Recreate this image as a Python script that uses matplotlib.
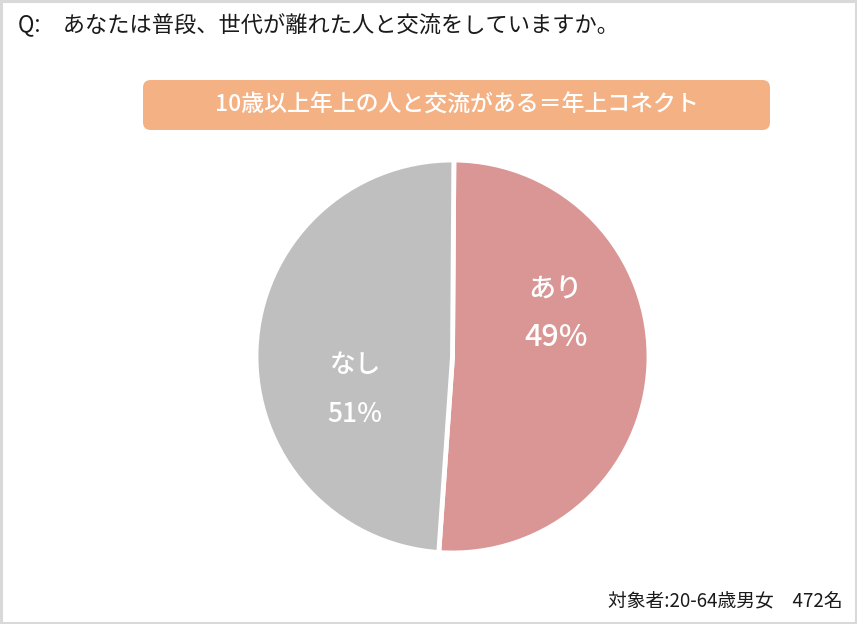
import matplotlib
matplotlib.use("Agg")
import matplotlib.pyplot as plt
from matplotlib.patches import FancyBboxPatch, Rectangle

plt.rcParams['font.family'] = ['Noto Sans CJK JP', 'DejaVu Sans']

labels = ["あり", "なし"]
label_pct = [49, 51]            # percentages printed on the chart
wedge_share = [51.0, 49.0]      # wedge sizes as drawn in the reference picture
colors = ["#D99694", "#BFBFBF"]
title = "Q:　あなたは普段、世代が離れた人と交流をしていますか。"
banner = "10歳以上年上の人と交流がある＝年上コネクト"
footer = "対象者:20-64歳男女　472名"

W, H = 857, 624
fig = plt.figure(figsize=(W / 100, H / 100), dpi=100)
fig.patch.set_facecolor("white")

# border
fig.patches.append(Rectangle((0.001, 0.002), 0.9975, 0.996, transform=fig.transFigure,
                             fill=False, edgecolor="#D9D9D9", linewidth=2.2))

fig.text(18 / W, 1 - 25 / H, title, fontsize=16, va="center", ha="left", color="#1a1a1a")

# banner
bx0, bx1, by0, by1 = 143, 770, 80, 130
fig.patches.append(FancyBboxPatch((bx0 / W, 1 - by1 / H), (bx1 - bx0) / W, (by1 - by0) / H,
                                  boxstyle="round,pad=0,rounding_size=0.009",
                                  transform=fig.transFigure, facecolor="#F4B183",
                                  edgecolor="none", mutation_aspect=W / H))
fig.text((bx0 + bx1) / 2 / W, 1 - 105 / H, banner, fontsize=16.5, fontweight="medium",
         color="white", ha="center", va="center")

# pie
cx, cy, r = 452.5, 356.5, 196.5
ax = fig.add_axes([(cx - r) / W, (H - cy - r) / H, 2 * r / W, 2 * r / H])
ax.pie(wedge_share, colors=colors, startangle=89.6, counterclock=False,
       wedgeprops=dict(edgecolor="white", linewidth=3.5))
ax.set_xlim(-1, 1)
ax.set_ylim(-1, 1)
ax.set_aspect("equal")
ax.axis("off")

def d(px, py):
    return (px - cx) / r, (cy - py) / r

ax.text(*d(555, 290), labels[0], color="white", fontsize=19.5, fontweight="medium",
        ha="center", va="center")
ax.text(*d(556, 337), f"{label_pct[0]}%", color="white", fontsize=22, fontweight="medium",
        ha="center", va="center")
ax.text(*d(356, 365), labels[1], color="white", fontsize=18.5, fontweight="medium",
        ha="center", va="center")
ax.text(*d(355, 415), f"{label_pct[1]}%", color="white", fontsize=19, fontweight="medium",
        ha="center", va="center")

fig.text(843 / W, 1 - 601 / H, footer, fontsize=13.5, ha="right", va="center", color="#1a1a1a")

fig.savefig("out.png", dpi=100)
